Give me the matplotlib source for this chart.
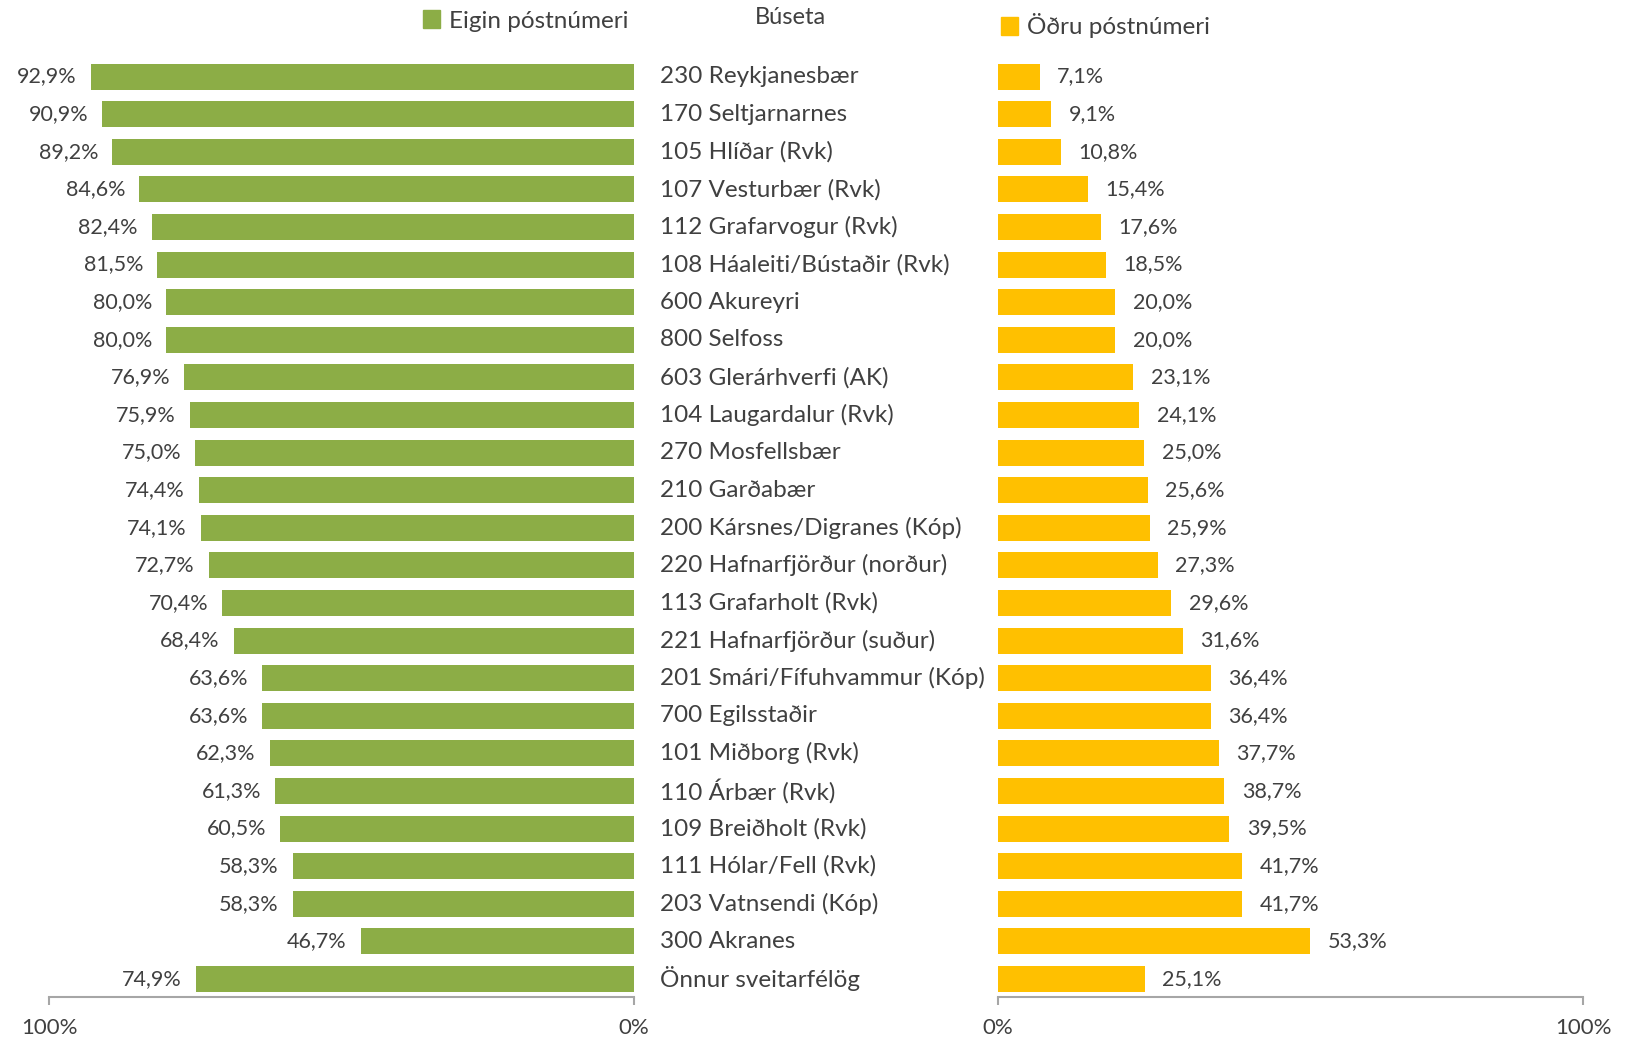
import matplotlib.pyplot as plt
import matplotlib.transforms as mtransforms
from matplotlib.patches import Patch

# Data
categories = [
    "230 Reykjanesbær", "170 Seltjarnarnes", "105 Hlíðar (Rvk)", "107 Vesturbær (Rvk)",
    "112 Grafarvogur (Rvk)", "108 Háaleiti/Bústaðir (Rvk)", "600 Akureyri", "800 Selfoss",
    "603 Glerárhverfi (AK)", "104 Laugardalur (Rvk)", "270 Mosfellsbær", "210 Garðabær",
    "200 Kársnes/Digranes (Kóp)", "220 Hafnarfjörður (norður)", "113 Grafarholt (Rvk)",
    "221 Hafnarfjörður (suður)", "201 Smári/Fífuhvammur (Kóp)", "700 Egilsstaðir",
    "101 Miðborg (Rvk)", "110 Árbær (Rvk)", "109 Breiðholt (Rvk)", "111 Hólar/Fell (Rvk)",
    "203 Vatnsendi (Kóp)", "300 Akranes", "Önnur sveitarfélög",
]
eigin = [92.9, 90.9, 89.2, 84.6, 82.4, 81.5, 80.0, 80.0, 76.9, 75.9, 75.0, 74.4, 74.1,
         72.7, 70.4, 68.4, 63.6, 63.6, 62.3, 61.3, 60.5, 58.3, 58.3, 46.7, 74.9]
odru = [7.1, 9.1, 10.8, 15.4, 17.6, 18.5, 20.0, 20.0, 23.1, 24.1, 25.0, 25.6, 25.9,
        27.3, 29.6, 31.6, 36.4, 36.4, 37.7, 38.7, 39.5, 41.7, 41.7, 53.3, 25.1]

GREEN = "#8CAD46"
GOLD = "#FFC000"
TEXT = "#404040"
AXIS = "#A6A6A6"
W, H = 1629, 1038

plt.rcParams["font.family"] = ["Lato", "DejaVu Sans"]

fig = plt.figure(figsize=(W / 100, H / 100), dpi=100)
bottom = 1 - 997 / H
height = (997 - 57) / H
ax_l = fig.add_axes([49 / W, bottom, 585 / W, height])
ax_r = fig.add_axes([998 / W, bottom, 585 / W, height])

y = list(range(len(categories)))


def fmt(v):
    return f"{v:.1f}%".replace(".", ",")


for ax, vals, color in [(ax_l, eigin, GREEN), (ax_r, odru, GOLD)]:
    ax.barh(y, vals, height=0.69, color=color)
    ax.set_ylim(24.48, -0.52)
    ax.set_xlim(0, 100)
    ax.set_yticks([])
    ax.set_xticks([0, 100])
    ax.set_xticklabels(["0%", "100%"])
    for s in ["top", "left", "right"]:
        ax.spines[s].set_visible(False)
    ax.spines["bottom"].set_color(AXIS)
    ax.spines["bottom"].set_linewidth(1.5)
    ax.tick_params(axis="x", colors=AXIS, length=6, width=1.5, pad=9,
                   labelsize=16, labelcolor=TEXT)
    ax.patch.set_visible(False)

ax_l.invert_xaxis()

for yi, v in zip(y, eigin):
    ax_l.text(v + 2.4, yi, fmt(v), ha="right", va="center", fontsize=15.5, color=TEXT)
for yi, v in zip(y, odru):
    ax_r.text(v + 3.0, yi, fmt(v), ha="left", va="center", fontsize=15.5, color=TEXT)

# category labels between the two panels
trans = mtransforms.blended_transform_factory(fig.transFigure, ax_l.transData)
for yi, c in zip(y, categories):
    ax_l.text(660 / W, yi, c, transform=trans, ha="left", va="center",
              fontsize=17.5, color=TEXT, clip_on=False)

fig.text(790 / W, 1 - 18 / H, "Búseta", ha="center", va="center", fontsize=17, color=TEXT)

fig.legend(handles=[Patch(color=GREEN, label="Eigin póstnúmeri")], loc="center left",
           bbox_to_anchor=(411 / W, 1 - 21 / H), frameon=False, fontsize=17.5,
           handlelength=0.7, handleheight=0.7, handletextpad=0.35, borderpad=0,
           labelcolor=TEXT)
fig.legend(handles=[Patch(color=GOLD, label="Öðru póstnúmeri")], loc="center left",
           bbox_to_anchor=(989 / W, 1 - 26 / H), frameon=False, fontsize=17.5,
           handlelength=0.7, handleheight=0.7, handletextpad=0.35, borderpad=0,
           labelcolor=TEXT)

fig.savefig("out.png", dpi=100)
